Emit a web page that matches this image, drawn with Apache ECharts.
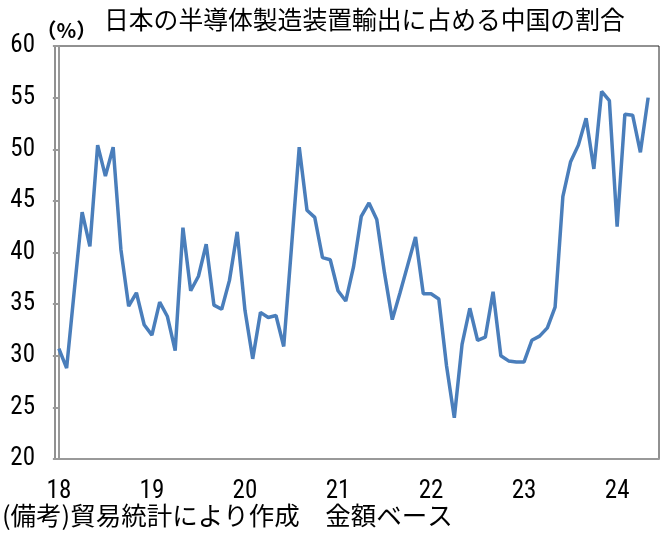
<!DOCTYPE html>
<html><head><meta charset="utf-8">
<script src="https://cdn.jsdelivr.net/npm/echarts@6/dist/echarts.min.js"></script>
<style>html,body{margin:0;padding:0;background:#fff}#c{width:672px;height:552px}</style>
</head><body><div id="c"></div>
<script>
// Monthly share (%), Jan 2018 - May 2024
const values = [
  30.7, 28.8, 36.4, 43.9, 40.6, 50.4, 47.4, 50.2, 40.3, 34.8, 36.1, 33.0,
  32.0, 35.2, 33.8, 30.5, 42.4, 36.3, 37.7, 40.8, 34.9, 34.5, 37.3, 42.0,
  34.4, 29.7, 34.2, 33.7, 33.9, 30.9, 40.5, 50.2, 44.1, 43.4, 39.5, 39.3,
  36.3, 35.3, 38.6, 43.5, 44.8, 43.2, 38.0, 33.5, 36.1, 38.8, 41.5, 36.0,
  36.0, 35.5, 29.0, 24.0, 31.1, 34.6, 31.5, 31.8, 36.2, 30.0, 29.5, 29.4,
  29.4, 31.5, 31.9, 32.7, 34.7, 45.4, 48.8, 50.4, 53.0, 48.1, 55.6, 54.7,
  42.5, 53.4, 53.3, 49.7, 55.0
];
const yearLabels = ['18', '19', '20', '21', '22', '23', '24'];
const yearTickPositions = [0, 12, 24, 36, 48, 60, 72];
const titleText = '日本の半導体製造装置輸出に占める中国の割合';
const unitText = '（%）';
const noteText = '(備考)貿易統計により作成　金額ベース';

const seriesData = values.map((v, i) => [i, v]);
const numFont = '"Liberation Sans Narrow", "Roboto Condensed", "DejaVu Sans Condensed", sans-serif';
const jpFont = '"Noto Sans CJK JP", sans-serif';

const chart = echarts.init(document.getElementById('c'), null, {renderer: 'canvas'});
chart.setOption({
  animation: false,
  backgroundColor: '#fff',
  title: {
    text: titleText, left: 99, top: 2,
    textStyle: {fontFamily: jpFont, fontSize: 24.8, fontWeight: 'normal', color: '#000'}
  },
  grid: {left: 55, right: 13, top: 46, bottom: 93, show: true, borderColor: '#222', borderWidth: 1},
  xAxis: {
    type: 'value', min: -0.5, max: 77.4,
    axisLine: {show: true, onZero: false, lineStyle: {color: '#999', width: 2}},
    axisTick: {show: false},
    splitLine: {show: false},
    axisLabel: {
      customValues: yearTickPositions,
      formatter: v => yearLabels[yearTickPositions.indexOf(v)] || '',
      fontFamily: numFont, fontSize: 25, color: '#000', margin: 20
    }
  },
  yAxis: {
    type: 'value', min: 20, max: 60, interval: 5,
    axisLine: {show: true, lineStyle: {color: '#999', width: 2}},
    axisTick: {show: true, inside: false, length: 6, lineStyle: {color: '#999', width: 2}},
    splitLine: {show: false},
    axisLabel: {fontFamily: numFont, fontSize: 25, color: '#000', margin: 20}
  },
  graphic: [
    {type: 'text', left: 36, top: 20, style: {text: unitText, fontFamily: 'Noto Sans CJK JP', fontSize: 20.5, fontWeight: 'bold', fill: '#000'}},
    {type: 'text', left: 2, top: 503, style: {text: noteText, fontFamily: 'Noto Sans CJK JP', fontSize: 25.5, fill: '#000'}}
  ],
  series: [{
    type: 'line', data: seriesData, showSymbol: false,
    lineStyle: {color: '#4a7ebb', width: 3.5}, itemStyle: {color: '#4a7ebb'}
  }]
});
</script></body></html>
